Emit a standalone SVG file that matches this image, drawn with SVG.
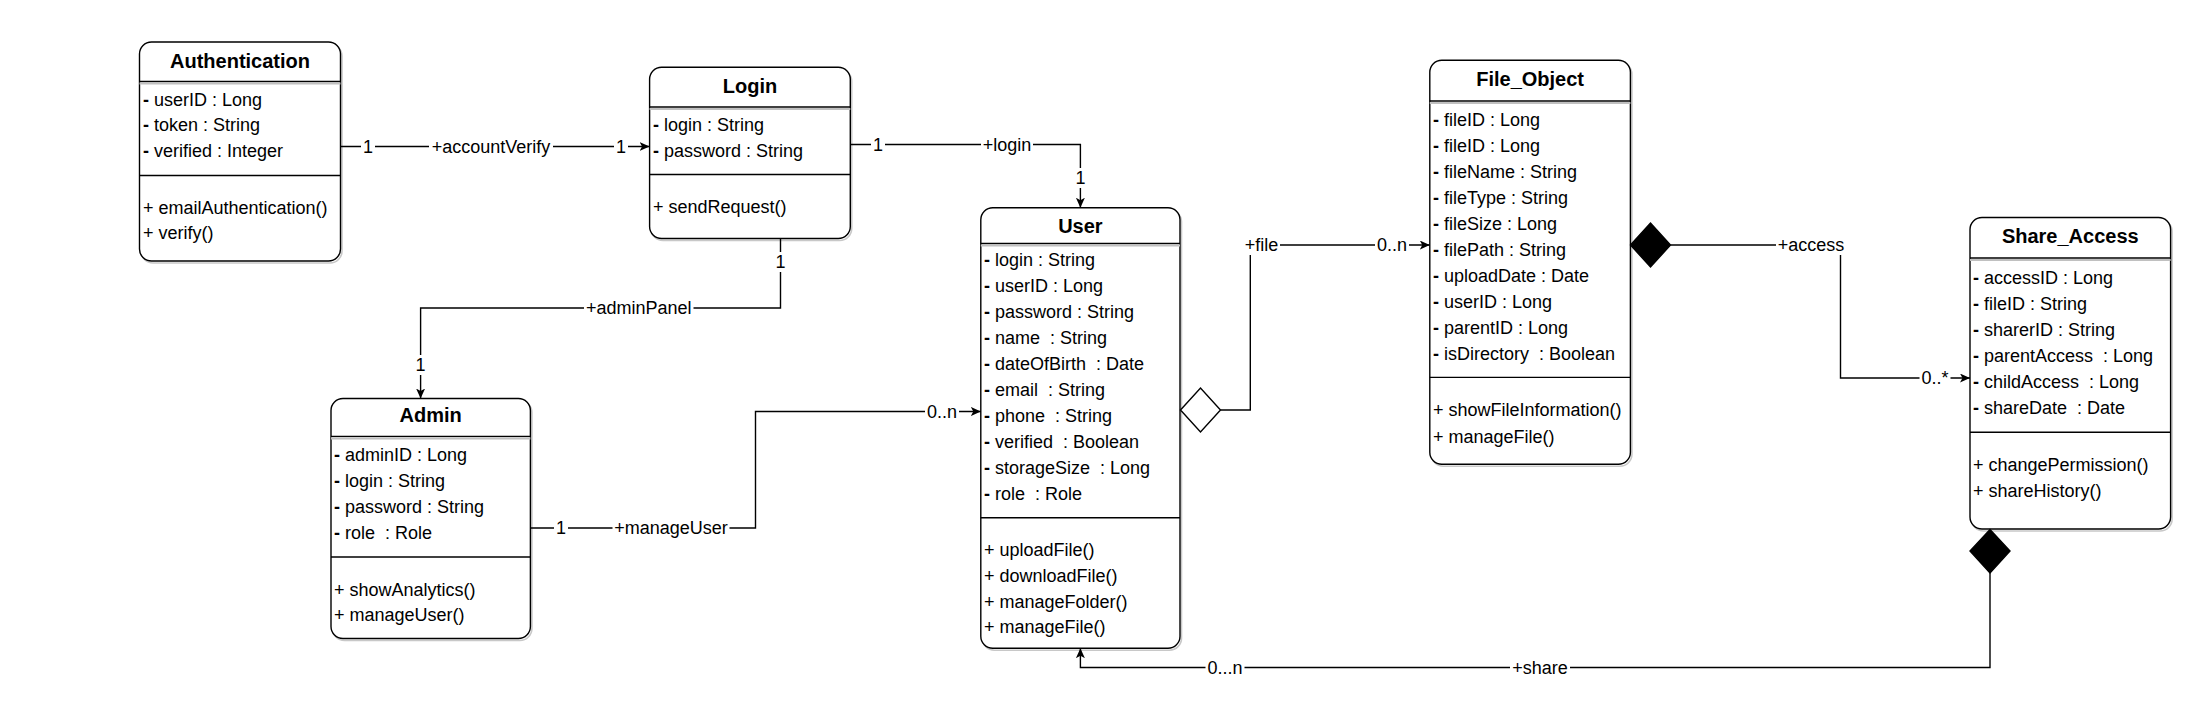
<svg xmlns="http://www.w3.org/2000/svg" width="2200" height="715" viewBox="0 0 2200 715">
<style>
text{font-family:"Liberation Sans",Arial,sans-serif;fill:#000;white-space:pre}
.box{fill:#fff;stroke:#000;stroke-width:1.4}
.shd{fill:none;stroke:#c8c8c8;stroke-width:1.6}
.hl{stroke:#000;stroke-width:1.4}
.hg{stroke:#c0c0c0;stroke-width:2.2}
.sep{stroke:#000;stroke-width:1.4}
.title{font-size:20px;font-weight:bold;text-anchor:middle}
.at{font-size:18px}
.d{font-weight:bold}
.ln{fill:none;stroke:#000;stroke-width:1.4}
.bg{fill:#fff}
.lbl{font-size:18px;text-anchor:middle}
</style>
<defs>
<marker id="arr" markerUnits="userSpaceOnUse" markerWidth="12" markerHeight="10" refX="10" refY="4.5" orient="auto">
<path d="M0,0 L10,4.5 L0,9 L2.5,4.5 Z" fill="#000"/>
</marker>
</defs>

<g id="Authentication">
<rect class="shd" x="141" y="44" width="201" height="219" rx="12"/>
<rect class="box" x="139.5" y="42" width="201" height="219" rx="12"/>
<line class="hl" x1="139.5" y1="81.5" x2="340.5" y2="81.5"/>
<line class="hg" x1="139.5" y1="83.5" x2="340.5" y2="83.5"/>
<text class="title" x="240" y="68">Authentication</text>
<text class="at" x="143" y="106"><tspan class="d">-</tspan> userID : Long</text>
<text class="at" x="143" y="131.3"><tspan class="d">-</tspan> token : String</text>
<text class="at" x="143" y="156.5"><tspan class="d">-</tspan> verified : Integer</text>
<line class="sep" x1="139.5" y1="175.5" x2="340.5" y2="175.5"/>
<text class="at" x="143" y="214">+ emailAuthentication()</text>
<text class="at" x="143" y="239.3">+ verify()</text>
</g>

<g id="Login">
<rect class="shd" x="651" y="69.3" width="200.7" height="171.2" rx="12"/>
<rect class="box" x="649.6" y="67.3" width="200.7" height="171.2" rx="12"/>
<line class="hl" x1="649.6" y1="107" x2="850.3" y2="107"/>
<line class="hg" x1="649.6" y1="109" x2="850.3" y2="109"/>
<text class="title" x="750" y="93">Login</text>
<text class="at" x="653" y="131.3"><tspan class="d">-</tspan> login : String</text>
<text class="at" x="653" y="156.5"><tspan class="d">-</tspan> password : String</text>
<line class="sep" x1="649.6" y1="174.5" x2="850.3" y2="174.5"/>
<text class="at" x="653" y="212.6">+ sendRequest()</text>
</g>

<g id="User">
<rect class="shd" x="982.3" y="209.7" width="199.2" height="440.5" rx="12"/>
<rect class="box" x="980.8" y="207.7" width="199.2" height="440.5" rx="12"/>
<line class="hl" x1="980.8" y1="243.5" x2="1180" y2="243.5"/>
<line class="hg" x1="980.8" y1="245.5" x2="1180" y2="245.5"/>
<text class="title" x="1080.4" y="233">User</text>
<text class="at" x="984" y="266.3"><tspan class="d">-</tspan> login : String</text>
<text class="at" x="984" y="292.3"><tspan class="d">-</tspan> userID : Long</text>
<text class="at" x="984" y="318.3"><tspan class="d">-</tspan> password : String</text>
<text class="at" x="984" y="344.3"><tspan class="d">-</tspan> name  : String</text>
<text class="at" x="984" y="370.3"><tspan class="d">-</tspan> dateOfBirth  : Date</text>
<text class="at" x="984" y="396.3"><tspan class="d">-</tspan> email  : String</text>
<text class="at" x="984" y="422.3"><tspan class="d">-</tspan> phone  : String</text>
<text class="at" x="984" y="448.3"><tspan class="d">-</tspan> verified  : Boolean</text>
<text class="at" x="984" y="474.3"><tspan class="d">-</tspan> storageSize  : Long</text>
<text class="at" x="984" y="500.3"><tspan class="d">-</tspan> role  : Role</text>
<line class="sep" x1="980.8" y1="517.7" x2="1180" y2="517.7"/>
<text class="at" x="984" y="556.3">+ uploadFile()</text>
<text class="at" x="984" y="582">+ downloadFile()</text>
<text class="at" x="984" y="607.6">+ manageFolder()</text>
<text class="at" x="984" y="633.3">+ manageFile()</text>
</g>

<g id="File_Object">
<rect class="shd" x="1431.3" y="62.3" width="200.6" height="404" rx="12"/>
<rect class="box" x="1429.8" y="60.3" width="200.6" height="404" rx="12"/>
<line class="hl" x1="1429.8" y1="101" x2="1630.4" y2="101"/>
<line class="hg" x1="1429.8" y1="103" x2="1630.4" y2="103"/>
<text class="title" x="1530.1" y="85.6">File_Object</text>
<text class="at" x="1433" y="125.6"><tspan class="d">-</tspan> fileID : Long</text>
<text class="at" x="1433" y="151.6"><tspan class="d">-</tspan> fileID : Long</text>
<text class="at" x="1433" y="177.6"><tspan class="d">-</tspan> fileName : String</text>
<text class="at" x="1433" y="203.6"><tspan class="d">-</tspan> fileType : String</text>
<text class="at" x="1433" y="229.6"><tspan class="d">-</tspan> fileSize : Long</text>
<text class="at" x="1433" y="255.6"><tspan class="d">-</tspan> filePath : String</text>
<text class="at" x="1433" y="281.6"><tspan class="d">-</tspan> uploadDate : Date</text>
<text class="at" x="1433" y="307.6"><tspan class="d">-</tspan> userID : Long</text>
<text class="at" x="1433" y="333.6"><tspan class="d">-</tspan> parentID : Long</text>
<text class="at" x="1433" y="359.6"><tspan class="d">-</tspan> isDirectory  : Boolean</text>
<line class="sep" x1="1429.8" y1="377.4" x2="1630.4" y2="377.4"/>
<text class="at" x="1433" y="416">+ showFileInformation()</text>
<text class="at" x="1433" y="442.7">+ manageFile()</text>
</g>

<g id="Share_Access">
<rect class="shd" x="1971.5" y="219.5" width="200.6" height="311.5" rx="12"/>
<rect class="box" x="1970" y="217.5" width="200.6" height="311.5" rx="12"/>
<line class="hl" x1="1970" y1="258" x2="2170.6" y2="258"/>
<line class="hg" x1="1970" y1="260" x2="2170.6" y2="260"/>
<text class="title" x="2070.3" y="242.7">Share_Access</text>
<text class="at" x="1973" y="284.1"><tspan class="d">-</tspan> accessID : Long</text>
<text class="at" x="1973" y="310.1"><tspan class="d">-</tspan> fileID : String</text>
<text class="at" x="1973" y="336.1"><tspan class="d">-</tspan> sharerID : String</text>
<text class="at" x="1973" y="362.1"><tspan class="d">-</tspan> parentAccess  : Long</text>
<text class="at" x="1973" y="388.1"><tspan class="d">-</tspan> childAccess  : Long</text>
<text class="at" x="1973" y="414.1"><tspan class="d">-</tspan> shareDate  : Date</text>
<line class="sep" x1="1970" y1="432.2" x2="2170.6" y2="432.2"/>
<text class="at" x="1973" y="470.7">+ changePermission()</text>
<text class="at" x="1973" y="496.7">+ shareHistory()</text>
</g>

<g id="Admin">
<rect class="shd" x="332.5" y="400.5" width="199.4" height="240" rx="12"/>
<rect class="box" x="331" y="398.5" width="199.4" height="240" rx="12"/>
<line class="hl" x1="331" y1="436.4" x2="530.4" y2="436.4"/>
<line class="hg" x1="331" y1="438.4" x2="530.4" y2="438.4"/>
<text class="title" x="430.7" y="422.3">Admin</text>
<text class="at" x="334" y="460.9"><tspan class="d">-</tspan> adminID : Long</text>
<text class="at" x="334" y="487.3"><tspan class="d">-</tspan> login : String</text>
<text class="at" x="334" y="512.8"><tspan class="d">-</tspan> password : String</text>
<text class="at" x="334" y="539.2"><tspan class="d">-</tspan> role  : Role</text>
<line class="sep" x1="331" y1="557" x2="530.4" y2="557"/>
<text class="at" x="334" y="595.6">+ showAnalytics()</text>
<text class="at" x="334" y="620.9">+ manageUser()</text>
</g>

<g id="connectors">
<path class="ln" d="M340.5,146.5 H649.6" marker-end="url(#arr)"/>
<rect class="bg" x="361" y="136.5" width="14" height="20"/>
<text class="lbl" x="368" y="152.8">1</text>
<rect class="bg" x="429" y="136.5" width="124" height="20"/>
<text class="lbl" x="491" y="152.8">+accountVerify</text>
<rect class="bg" x="614" y="136.5" width="14" height="20"/>
<text class="lbl" x="621" y="152.8">1</text>

<path class="ln" d="M850.3,144.5 H1080.4 V207.7" marker-end="url(#arr)"/>
<rect class="bg" x="871" y="134.5" width="14" height="20"/>
<text class="lbl" x="878" y="150.8">1</text>
<rect class="bg" x="981" y="134.5" width="52" height="20"/>
<text class="lbl" x="1007" y="150.8">+login</text>
<rect class="bg" x="1073.4" y="168" width="14" height="20"/>
<text class="lbl" x="1080.4" y="184.3">1</text>

<path class="ln" d="M780.5,238.5 V308 H420.6 V398.5" marker-end="url(#arr)"/>
<rect class="bg" x="773.5" y="252" width="14" height="20"/>
<text class="lbl" x="780.5" y="268.3">1</text>
<rect class="bg" x="584" y="298" width="109.5" height="20"/>
<text class="lbl" x="638.7" y="314.3">+adminPanel</text>
<rect class="bg" x="413.6" y="355" width="14" height="20"/>
<text class="lbl" x="420.6" y="371.3">1</text>

<path class="ln" d="M530.4,528 H755.5 V411.5 H980.8" marker-end="url(#arr)"/>
<rect class="bg" x="554" y="518" width="14" height="20"/>
<text class="lbl" x="561" y="534.3">1</text>
<rect class="bg" x="612.5" y="518" width="117" height="20"/>
<text class="lbl" x="671" y="534.3">+manageUser</text>
<rect class="bg" x="925" y="401.5" width="34" height="20"/>
<text class="lbl" x="942" y="417.8">0..n</text>

<polygon points="1180.5,410 1200.5,388 1220.5,410 1200.5,432" fill="#fff" stroke="#000" stroke-width="1.4"/>
<path class="ln" d="M1220.5,410 H1250.3 V245 H1429.8" marker-end="url(#arr)"/>
<rect class="bg" x="1243" y="235" width="37" height="20"/>
<text class="lbl" x="1261.5" y="251.3">+file</text>
<rect class="bg" x="1375" y="235" width="34" height="20"/>
<text class="lbl" x="1392" y="251.3">0..n</text>

<polygon points="1630.5,245 1650.5,223 1670.5,245 1650.5,267" fill="#000" stroke="#000" stroke-width="1.4"/>
<path class="ln" d="M1670.5,245 H1840.5 V378 H1970" marker-end="url(#arr)"/>
<rect class="bg" x="1776" y="235" width="70" height="20"/>
<text class="lbl" x="1811" y="251.3">+access</text>
<rect class="bg" x="1919.5" y="368" width="31" height="20"/>
<text class="lbl" x="1935" y="384.3">0..*</text>

<polygon points="1990,529.5 2010,551 1990,573 1970,551" fill="#000" stroke="#000" stroke-width="1.4"/>
<path class="ln" d="M1990,573 V667.5 H1080.4 V648.2" marker-end="url(#arr)"/>
<rect class="bg" x="1205.5" y="657.5" width="39" height="20"/>
<text class="lbl" x="1225" y="673.8">0...n</text>
<rect class="bg" x="1510" y="657.5" width="60" height="20"/>
<text class="lbl" x="1540" y="673.8">+share</text>
</g>
</svg>
